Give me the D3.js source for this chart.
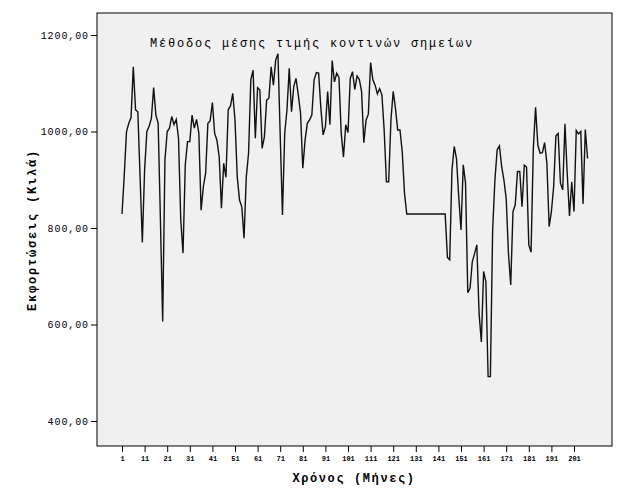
<!DOCTYPE html>
<html>
<head>
<meta charset="utf-8">
<script src="https://cdn.jsdelivr.net/npm/d3@7"></script>
<style>
  html, body { margin: 0; padding: 0; background: #ffffff; }
  svg { display: block; }
</style>
</head>
<body>
<svg id="chart" width="624" height="500"></svg>
<script>
// ---- data ----
const chartTitle = "Μέθοδος μέσης τιμής κοντινών σημείων";
const xTitle = "Χρόνος (Μήνες)";
const yTitle = "Εκφορτώσεις (Κιλά)";
const yTickValues = [400, 600, 800, 1000, 1200];
const yTickLabels = ["400,00", "600,00", "800,00", "1000,00", "1200,00"];
const xTickValues = [1, 11, 21, 31, 41, 51, 61, 71, 81, 91, 101, 111, 121, 131, 141, 151, 161, 171, 181, 191, 201];
const xTickLabels = ["1", "11", "21", "31", "41", "51", "61", "71", "81", "91", "101", "111", "121", "131", "141", "151", "161", "171", "181", "191", "201"];
const values = [
  829, 910, 1000, 1017, 1029, 1134, 1045, 1041, 906, 770,
  920, 1000, 1011, 1027, 1091, 1034, 1017, 817, 606, 941,
  1000, 1007, 1031, 1014, 1025, 986, 817, 748, 931, 979,
  979, 1034, 1007, 1025, 996, 837, 886, 913, 1017, 1022,
  1060, 996, 982, 948, 841, 934, 905, 1045, 1053, 1079,
  1024, 906, 858, 844, 779, 906, 955, 1107, 1127, 986,
  1091, 1086, 965, 989, 1065, 1069, 1134, 1096, 1148, 1161,
  993, 827, 996, 1045, 1131, 1041, 1093, 1110, 1076, 1038,
  924, 982, 1017, 1024, 1034, 1107, 1122, 1121, 1048, 993,
  1010, 1083, 1014, 1147, 1103, 1121, 1112, 996, 947, 1014,
  998, 1110, 1124, 1087, 1115, 1108, 1083, 977, 1024, 1036,
  1143, 1107, 1096, 1078, 1089, 1076, 1003, 896, 896, 1024,
  1083, 1048, 1003, 1003, 958, 872, 829, 829, 829, 829,
  829, 829, 829, 829, 829, 829, 829, 829, 829, 829,
  829, 829, 829, 829, 739, 734, 920, 969, 944, 865,
  796, 931, 893, 666, 675, 730, 747, 765, 623, 564,
  710, 689, 492, 492, 796, 899, 962, 970, 927, 899,
  861, 747, 682, 834, 848, 917, 917, 844, 930, 926,
  765, 750, 965, 1050, 972, 955, 956, 977, 934, 803,
  834, 886, 991, 996, 893, 879, 1016, 913, 825, 896,
  834, 1002, 995, 1000, 850, 1004, 944
];

// ---- layout ----
const svg = d3.select("#chart");
const frame = { left: 97, right: 612, top: 13, bottom: 446 };

const x = d3.scaleLinear().domain([1, 201]).range([122, 574]);
const y = d3.scaleLinear().domain([400, 1200]).range([421, 35]);

// plot background + frame
svg.append("rect")
  .attr("x", frame.left).attr("y", frame.top)
  .attr("width", frame.right - frame.left)
  .attr("height", frame.bottom - frame.top)
  .attr("fill", "#f0f0f0")
  .attr("stroke", "#000")
  .attr("stroke-width", 1);

// line
const line = d3.line()
  .x((d, i) => x(i + 1))
  .y(d => y(d));

svg.append("path")
  .datum(values)
  .attr("d", line)
  .attr("fill", "none")
  .attr("stroke", "#111")
  .attr("stroke-width", 1.4)
  .attr("stroke-linejoin", "miter");

// y axis
const yAxis = d3.axisLeft(y)
  .tickValues(yTickValues)
  .tickFormat((d, i) => yTickLabels[i])
  .tickSize(6)
  .tickPadding(2);
const gy = svg.append("g")
  .attr("transform", `translate(${frame.left},0)`)
  .call(yAxis);
gy.select(".domain").remove();
gy.selectAll(".tick line").attr("stroke", "#000");
gy.selectAll(".tick text")
  .attr("font-family", "'Liberation Mono', 'DejaVu Sans Mono', monospace")
  .attr("font-size", "10px")
  .attr("letter-spacing", "0.9px")
  .attr("fill", "#000");

// x axis
const xAxis = d3.axisBottom(x)
  .tickValues(xTickValues)
  .tickFormat((d, i) => xTickLabels[i])
  .tickSize(6)
  .tickPadding(4);
const gx = svg.append("g")
  .attr("transform", `translate(0,${frame.bottom})`)
  .call(xAxis);
gx.select(".domain").remove();
gx.selectAll(".tick line").attr("stroke", "#000");
gx.selectAll(".tick text")
  .attr("font-family", "'Liberation Mono', 'DejaVu Sans Mono', monospace")
  .attr("font-size", "7px")
  .attr("font-weight", "bold")
  .attr("fill", "#000");

// chart title (inside plot)
svg.append("text")
  .attr("x", 150).attr("y", 47)
  .attr("font-family", "'Liberation Mono', 'DejaVu Sans Mono', monospace")
  .attr("font-size", "12px")
  .attr("letter-spacing", "1.8px")
  .attr("fill", "#000")
  .text(chartTitle);

// x title
svg.append("text")
  .attr("x", 354).attr("y", 482)
  .attr("text-anchor", "middle")
  .attr("font-family", "'Liberation Mono', 'DejaVu Sans Mono', monospace")
  .attr("font-size", "12px")
  .attr("font-weight", "bold")
  .attr("letter-spacing", "1.6px")
  .attr("fill", "#000")
  .text(xTitle);

// y title
svg.append("text")
  .attr("transform", "translate(36,230) rotate(-90)")
  .attr("text-anchor", "middle")
  .attr("font-family", "'Liberation Mono', 'DejaVu Sans Mono', monospace")
  .attr("font-size", "12px")
  .attr("font-weight", "bold")
  .attr("letter-spacing", "1.8px")
  .attr("fill", "#000")
  .text(yTitle);
</script>
</body>
</html>
